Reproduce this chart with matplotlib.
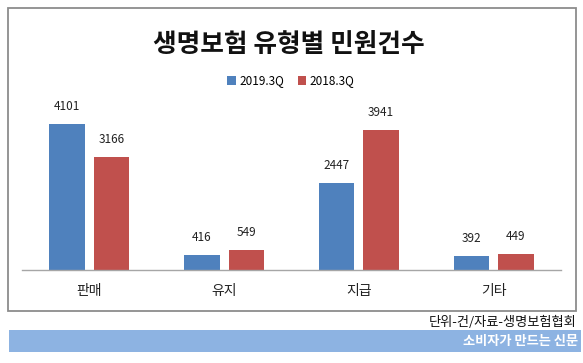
import matplotlib
matplotlib.use("Agg")
import matplotlib.pyplot as plt
from matplotlib.patches import Rectangle
import numpy as np

plt.rcParams['font.family'] = ['Noto Sans CJK KR', 'DejaVu Sans']

categories = ['판매', '유지', '지급', '기타']
series_names = ['2019.3Q', '2018.3Q']
values_2019 = [4101, 416, 2447, 392]
values_2018 = [3166, 549, 3941, 449]
colors = ['#4F81BD', '#C0504D']

W, H = 583, 363
fig = plt.figure(figsize=(W/100, H/100), dpi=100)

def fx(x): return x / W
def fy(y): return 1 - y / H

# outer border box
fig.patches.append(Rectangle((fx(8), fy(311)), fx(576) - fx(8), fy(8) - fy(311),
                             transform=fig.transFigure, fill=False,
                             edgecolor='#8C8C8C', linewidth=1.3))
# bottom banner
fig.patches.append(Rectangle((fx(9), fy(352)), fx(581) - fx(9), fy(330) - fy(352),
                             transform=fig.transFigure, facecolor='#8DB3E2',
                             edgecolor='none'))

ax = fig.add_axes([fx(22), fy(270), fx(561) - fx(22), fy(110) - fy(270)])
x = np.arange(len(categories))
bw = 0.263
off = bw / 2 + 0.0334
b1 = ax.bar(x - off, values_2019, bw, color=colors[0], label=series_names[0])
b2 = ax.bar(x + off, values_2018, bw, color=colors[1], label=series_names[1])
for bars, vals in ((b1, values_2019), (b2, values_2018)):
    for r, v in zip(bars, vals):
        ax.annotate(str(v), (r.get_x() + r.get_width() / 2, v),
                    xytext=(0, 8), textcoords='offset points',
                    ha='center', va='bottom', fontsize=8.5, color='#222222')
ax.set_xlim(-0.5, len(categories) - 0.5)
ax.set_ylim(0, 4500)
ax.set_yticks([])
ax.set_xticks(x)
ax.set_xticklabels(categories, fontsize=10, color='#222222')
ax.tick_params(axis='x', length=0, pad=10)
for s in ['top', 'right', 'left']:
    ax.spines[s].set_visible(False)
ax.spines['bottom'].set_color('#A6A6A6')
ax.spines['bottom'].set_linewidth(1.0)

fig.text(fx(289), fy(44), '생명보험 유형별 민원건수', ha='center', va='center',
         fontsize=18.5, fontweight='bold', color='#111111')

leg = fig.legend(handles=[b1, b2], labels=series_names, loc='center',
                 bbox_to_anchor=(fx(291), fy(81)), ncol=2, frameon=False,
                 fontsize=8.5, handlelength=0.7, handleheight=0.7,
                 handletextpad=0.3, columnspacing=1.2)

fig.text(fx(576), fy(322), '단위-건/자료-생명보험협회', ha='right', va='center',
         fontsize=9.5, color='#111111')
fig.text(fx(578), fy(341), '소비자가 만드는 신문', ha='right', va='center',
         fontsize=9.5, fontweight='bold', color='white')

fig.savefig('out.png', dpi=100)
